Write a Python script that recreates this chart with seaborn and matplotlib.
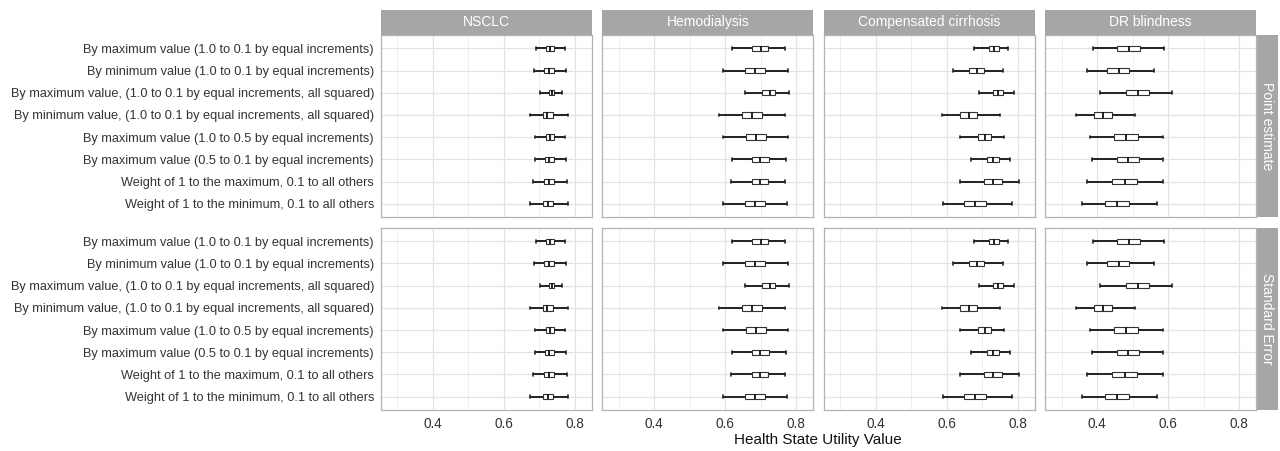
import numpy as np
import pandas as pd
import seaborn as sns
import matplotlib.pyplot as plt

# Kategorien / Facetten
methods = [
    "By maximum value (1.0 to 0.1 by equal increments)",
    "By minimum value (1.0 to 0.1 by equal increments)",
    "By maximum value, (1.0 to 0.1 by equal increments, all squared)",
    "By minimum value, (1.0 to 0.1 by equal increments, all squared)",
    "By maximum value (1.0 to 0.5 by equal increments)",
    "By maximum value (0.5 to 0.1 by equal increments)",
    "Weight of 1 to the maximum, 0.1 to all others",
    "Weight of 1 to the minimum, 0.1 to all others",
]
diseases = ["NSCLC", "Hemodialysis", "Compensated cirrhosis", "DR blindness"]
measures = ["Point estimate", "Standard Error"]

nsclc = [
    [0.692, 0.718, 0.730, 0.741, 0.773],
    [0.685, 0.714, 0.728, 0.741, 0.776],
    [0.701, 0.727, 0.735, 0.743, 0.765],
    [0.673, 0.710, 0.723, 0.739, 0.782],
    [0.689, 0.718, 0.730, 0.741, 0.773],
    [0.687, 0.715, 0.728, 0.741, 0.775],
    [0.683, 0.713, 0.727, 0.741, 0.778],
    [0.675, 0.710, 0.725, 0.740, 0.781],
]
hemodialysis = [
    [0.619, 0.677, 0.700, 0.722, 0.770],
    [0.593, 0.655, 0.683, 0.712, 0.777],
    [0.656, 0.703, 0.727, 0.740, 0.780],
    [0.584, 0.647, 0.677, 0.705, 0.770],
    [0.595, 0.658, 0.686, 0.715, 0.776],
    [0.618, 0.676, 0.699, 0.723, 0.772],
    [0.617, 0.675, 0.698, 0.720, 0.769],
    [0.593, 0.656, 0.683, 0.712, 0.775],
]
cirrhosis = [
    [0.678, 0.719, 0.733, 0.747, 0.774],
    [0.617, 0.664, 0.685, 0.706, 0.759],
    [0.690, 0.731, 0.746, 0.759, 0.791],
    [0.588, 0.638, 0.663, 0.686, 0.751],
    [0.638, 0.688, 0.707, 0.725, 0.763],
    [0.668, 0.714, 0.730, 0.747, 0.780],
    [0.637, 0.706, 0.731, 0.757, 0.804],
    [0.589, 0.650, 0.681, 0.711, 0.784],
]
dr_blindness = [
    [0.389, 0.457, 0.490, 0.522, 0.588],
    [0.371, 0.429, 0.462, 0.491, 0.561],
    [0.408, 0.482, 0.514, 0.545, 0.612],
    [0.341, 0.390, 0.417, 0.443, 0.506],
    [0.379, 0.448, 0.482, 0.515, 0.585],
    [0.386, 0.455, 0.488, 0.519, 0.587],
    [0.372, 0.443, 0.478, 0.513, 0.586],
    [0.357, 0.423, 0.457, 0.490, 0.569],
]
stats = {"NSCLC": nsclc, "Hemodialysis": hemodialysis,
         "Compensated cirrhosis": cirrhosis, "DR blindness": dr_blindness}

# Long-Format bauen (5 Punkte je Box -> Quartile treffen genau)
rows = []
for m in measures:
    for d in diseases:
        for meth, vals in zip(methods, stats[d]):
            for v in vals:
                rows.append({"measure": m, "disease": d, "method": meth, "value": v})
df = pd.DataFrame(rows)

sns.set_theme(style="white")
plt.rcParams["font.family"] = ["Liberation Sans", "DejaVu Sans"]

fig, axes = plt.subplots(2, 4, figsize=(12.8, 4.51), dpi=100, sharex=True, sharey=True)
fig.subplots_adjust(left=381/1280, right=1256/1280, top=1-35/451, bottom=1-410/451,
                    wspace=0.051, hspace=0.06)

strip_col = "#A6A6A6"
for i, m in enumerate(measures):
    for j, d in enumerate(diseases):
        ax = axes[i, j]
        sub = df[(df.measure == m) & (df.disease == d)]
        sns.boxplot(data=sub, x="value", y="method", order=methods, ax=ax,
                    whis=(0, 100), width=0.25, color="white", saturation=1,
                    linecolor="#333333", linewidth=0.8,
                    whiskerprops={"linewidth": 1.4, "color": "#222222"},
                    capprops={"linewidth": 1.2, "color": "#222222"},
                    medianprops={"linewidth": 1.3, "color": "#111111"},
                    capwidths=0.12)
        ax.set_xlim(0.254, 0.848)
        ax.set_ylim(7.6, -0.6)
        ax.set_xticks([0.4, 0.6, 0.8])
        ax.set_xticks([0.3, 0.5, 0.7], minor=True)
        ax.grid(which="major", axis="both", color="#E3E3E3", linewidth=0.9)
        ax.grid(which="minor", axis="x", color="#EDEDED", linewidth=0.6)
        ax.set_axisbelow(True)
        for s in ax.spines.values():
            s.set_color("#B3B3B3")
            s.set_linewidth(0.9)
        ax.set_xlabel("")
        ax.set_ylabel("")
        ax.tick_params(axis="both", length=3, color="#B3B3B3", labelsize=9.2,
                       labelcolor="#333333", pad=2)
        ax.tick_params(axis="x", labelsize=9.8)
        if i == 0:
            ax.add_patch(plt.Rectangle((0, 1), 1, 25/182, transform=ax.transAxes,
                                       facecolor=strip_col, edgecolor="none", clip_on=False))
            ax.text(0.5, 1 + 12.5/182, d, transform=ax.transAxes, ha="center", va="center",
                    color="white", fontsize=10)
        if j == 3:
            ax.add_patch(plt.Rectangle((1, 0), 22/211, 1, transform=ax.transAxes,
                                       facecolor=strip_col, edgecolor="none", clip_on=False))
            ax.text(1 + 11/211, 0.5, m, transform=ax.transAxes, ha="center", va="center",
                    color="white", fontsize=10, rotation=270)

fig.text(818/1280, 1-440/451, "Health State Utility Value", ha="center", va="center",
         fontsize=11, color="#111111")

fig.savefig("out.png", dpi=100)
